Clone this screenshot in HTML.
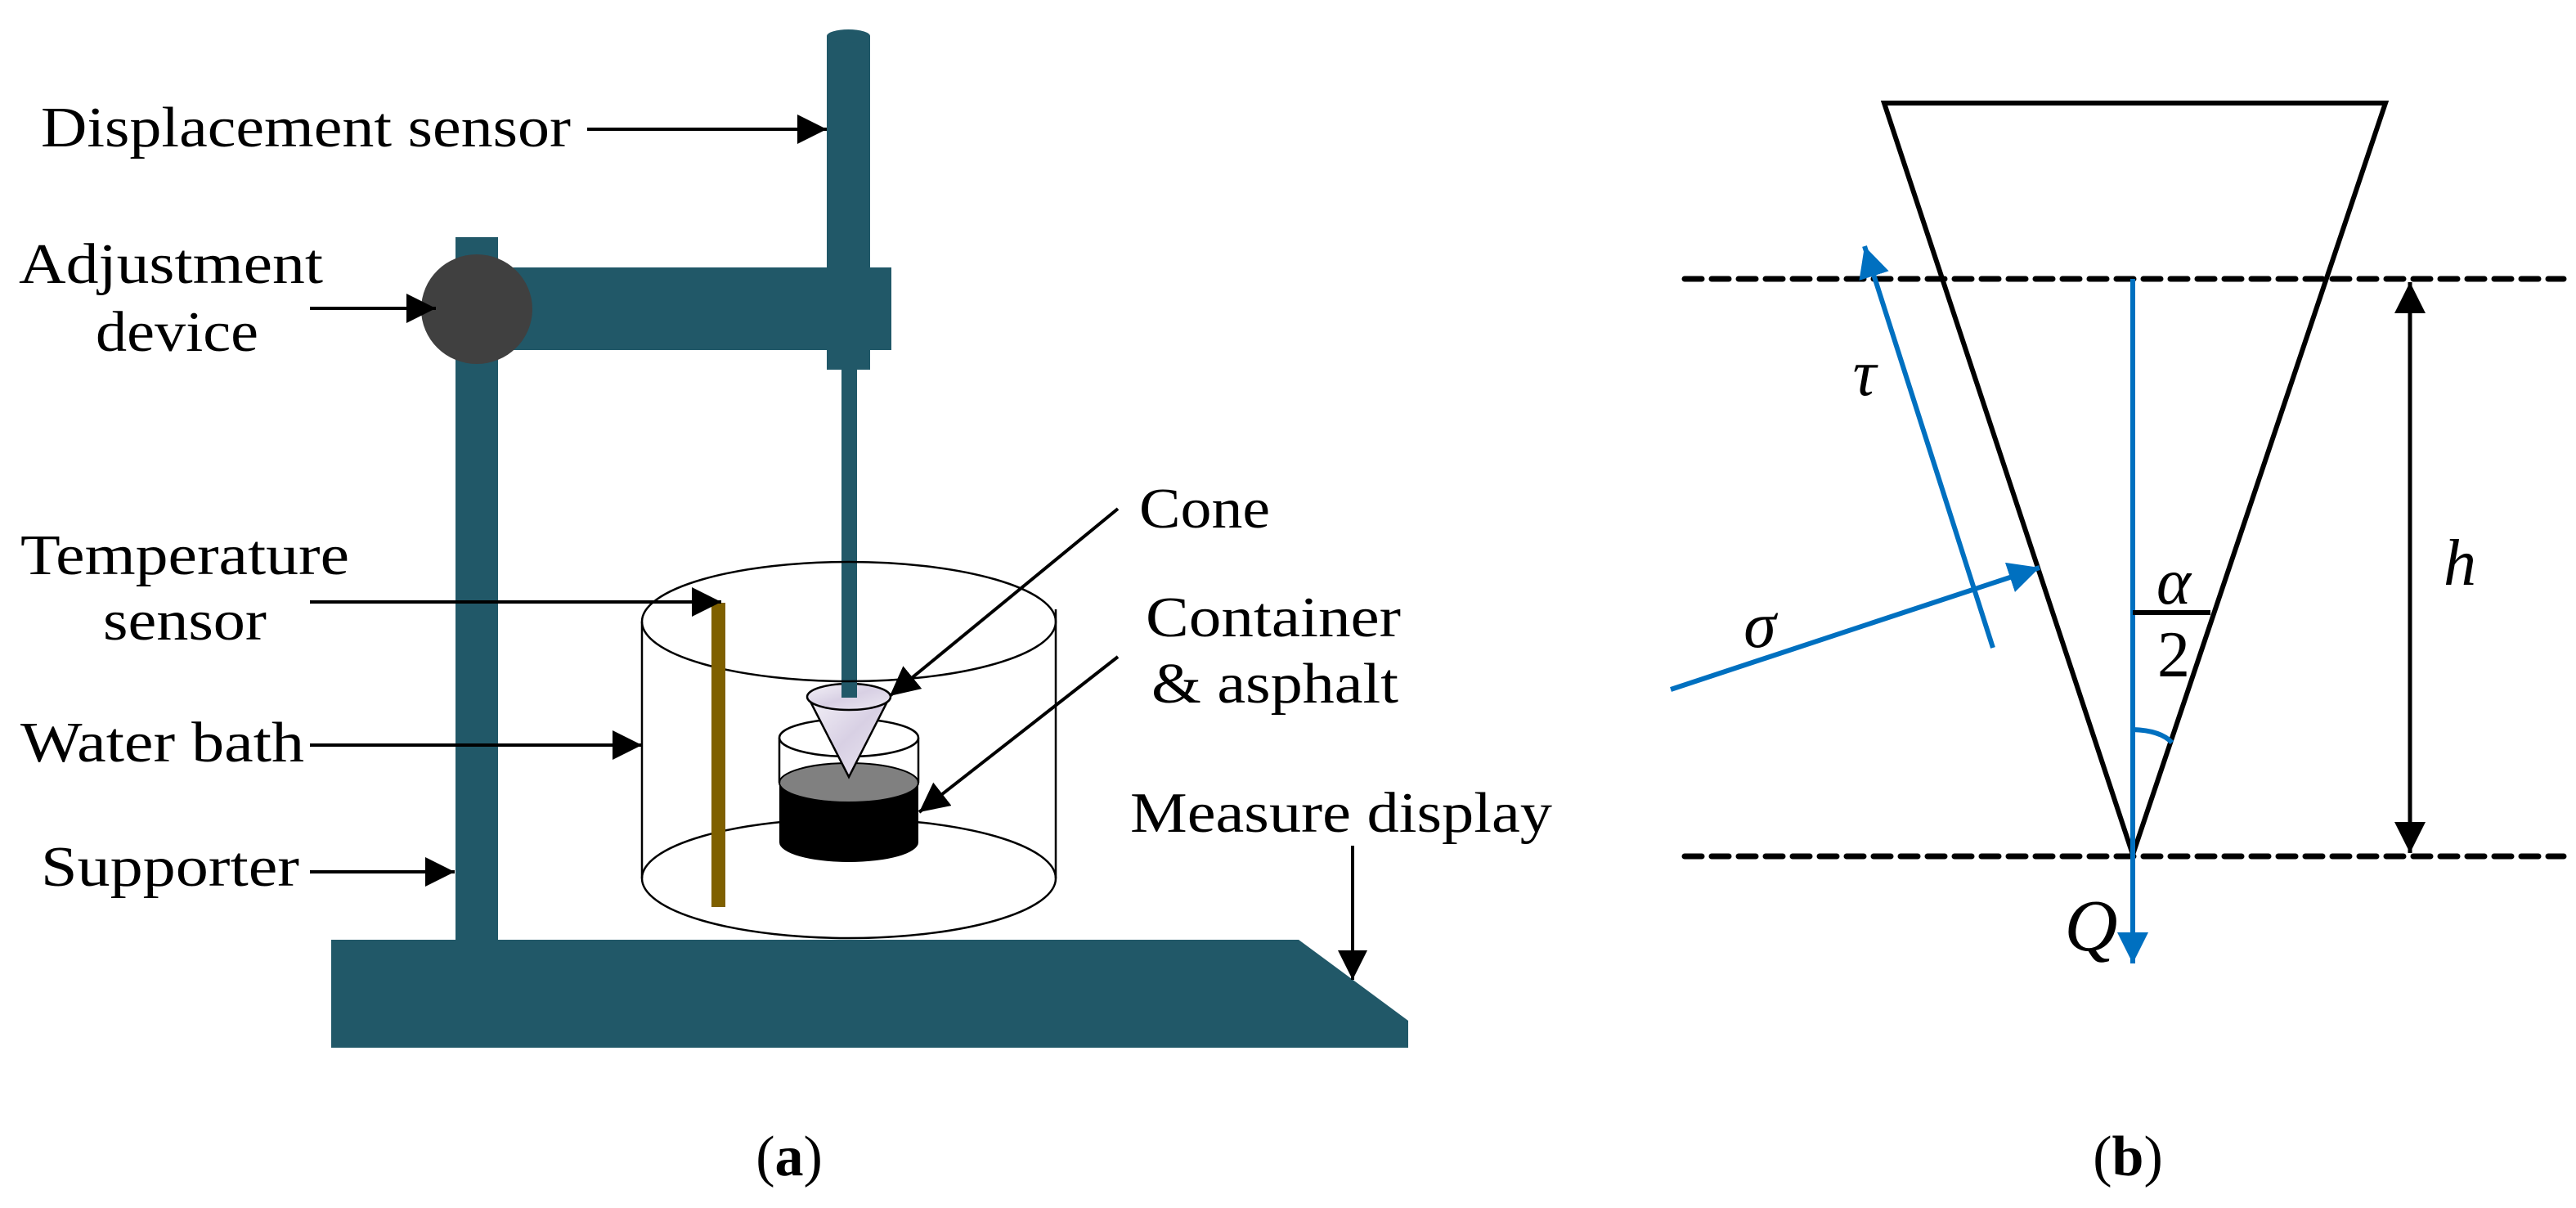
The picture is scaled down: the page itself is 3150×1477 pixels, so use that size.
<!DOCTYPE html>
<html><head><meta charset="utf-8"><style>
html,body{margin:0;padding:0;background:#fff;}
svg{display:block;}
text{font-family:"Liberation Serif",serif;fill:#000;}
</style></head><body>
<svg width="3150" height="1477" viewBox="0 0 3150 1477" xmlns="http://www.w3.org/2000/svg">
<defs>
<linearGradient id="cg" x1="0" y1="0" x2="1" y2="1"><stop offset="0" stop-color="#f4f2f8"/><stop offset="0.5" stop-color="#d8d0e4"/><stop offset="1" stop-color="#ece8f2"/></linearGradient>
<marker id="ah" viewBox="0 0 36 36" refX="36" refY="18" markerWidth="36" markerHeight="36" markerUnits="userSpaceOnUse" orient="auto"><path d="M0,0L36,18L0,36z" fill="#000"/></marker>
<marker id="bh" viewBox="0 0 36 36" refX="36" refY="18" markerWidth="38" markerHeight="38" markerUnits="userSpaceOnUse" orient="auto"><path d="M0,0L36,18L0,36z" fill="#0070c0"/></marker>
<marker id="kh" viewBox="0 0 36 36" refX="36" refY="18" markerWidth="38" markerHeight="38" markerUnits="userSpaceOnUse" orient="auto-start-reverse"><path d="M0,0L36,18L0,36z" fill="#000"/></marker>
</defs>
<!-- Panel A -->
<g fill="#215868">
<rect x="1011" y="44" width="53" height="408"/>
<ellipse cx="1037.5" cy="44" rx="26.5" ry="8"/>
<rect x="603" y="327" width="487" height="101"/>
<rect x="557" y="290" width="52" height="862"/>
<rect x="1029" y="440" width="19" height="413"/>
<polygon points="405,1149 1588,1149 1722,1248 1722,1281 405,1281"/>
</g>
<ellipse cx="583" cy="378" rx="68" ry="67" fill="#404040"/>
<g fill="none" stroke="#000" stroke-width="2.5">
<ellipse cx="1038" cy="1074" rx="253" ry="73"/>
</g>
<path d="M953,957 L953,1030 A85,24 0 0 0 1123,1030 L1123,957 Z" fill="#000"/>
<ellipse cx="1038" cy="957" rx="85" ry="24" fill="#808080" stroke="#000" stroke-width="2"/>
<g fill="none" stroke="#000" stroke-width="2.5">
<ellipse cx="1038" cy="902" rx="85" ry="23"/>
<line x1="953" y1="902" x2="953" y2="957"/><line x1="1123" y1="902" x2="1123" y2="957"/>
</g>
<path d="M988,852 L1038,950 L1088,852 Z" fill="url(#cg)" stroke="#000" stroke-width="2.5"/>
<ellipse cx="1038" cy="852" rx="51" ry="16" fill="url(#cg)" stroke="#000" stroke-width="2.5"/>
<rect x="1029" y="440" width="19" height="413" fill="#215868"/>
<g fill="none" stroke="#000" stroke-width="2.5">
<ellipse cx="1038" cy="760" rx="253" ry="73"/>
<line x1="785" y1="760" x2="785" y2="1074"/><line x1="1291" y1="745" x2="1291" y2="1074"/>
</g>
<rect x="870" y="737" width="17" height="372" fill="#7f6000"/>
<g stroke="#000" stroke-width="4" fill="none">
<line x1="718" y1="158" x2="1011" y2="158" marker-end="url(#ah)"/>
<line x1="379" y1="377" x2="533" y2="377" marker-end="url(#ah)"/>
<line x1="379" y1="736" x2="882" y2="736" marker-end="url(#ah)"/>
<line x1="379" y1="911" x2="785" y2="911" marker-end="url(#ah)"/>
<line x1="379" y1="1066" x2="556" y2="1066" marker-end="url(#ah)"/>
<line x1="1367" y1="622" x2="1088" y2="851" marker-end="url(#ah)"/>
<line x1="1367" y1="803" x2="1124" y2="993" marker-end="url(#ah)"/>
<line x1="1654" y1="1034" x2="1654" y2="1198" marker-end="url(#ah)"/>
</g>
<g font-size="70">
<text x="50" y="179" textLength="648" lengthAdjust="spacingAndGlyphs">Displacement sensor</text>
<text x="23" y="346" textLength="372" lengthAdjust="spacingAndGlyphs">Adjustment</text>
<text x="117" y="429" textLength="199" lengthAdjust="spacingAndGlyphs">device</text>
<text x="25" y="702" textLength="402" lengthAdjust="spacingAndGlyphs">Temperature</text>
<text x="126" y="782" textLength="200" lengthAdjust="spacingAndGlyphs">sensor</text>
<text x="25" y="931" textLength="347" lengthAdjust="spacingAndGlyphs">Water bath</text>
<text x="50" y="1083" textLength="316" lengthAdjust="spacingAndGlyphs">Supporter</text>
<text x="1393" y="645" textLength="160" lengthAdjust="spacingAndGlyphs">Cone</text>
<text x="1401" y="778" textLength="312" lengthAdjust="spacingAndGlyphs">Container</text>
<text x="1408" y="859" textLength="302" lengthAdjust="spacingAndGlyphs">&amp; asphalt</text>
<text x="1382" y="1017" textLength="516" lengthAdjust="spacingAndGlyphs">Measure display</text>
<text x="965" y="1437" text-anchor="middle">(<tspan font-weight="bold">a</tspan>)</text>
<text x="2602" y="1437" text-anchor="middle">(<tspan font-weight="bold">b</tspan>)</text>
</g>
<!-- Panel B -->
<g stroke="#000" stroke-width="7" stroke-dasharray="21 12" stroke-linecap="round" fill="none">
<line x1="2060" y1="341" x2="3135" y2="341"/>
<line x1="2060" y1="1047" x2="3135" y2="1047"/>
</g>
<polygon points="2304,126 2917,126 2608,1045" fill="none" stroke="#000" stroke-width="6"/>
<line x1="2947" y1="345" x2="2947" y2="1043" stroke="#000" stroke-width="5" marker-start="url(#kh)" marker-end="url(#kh)"/>
<g stroke="#0070c0" stroke-width="6" fill="none">
<line x1="2608" y1="341" x2="2608" y2="1178" marker-end="url(#bh)"/>
<line x1="2437" y1="792" x2="2280" y2="301" marker-end="url(#bh)"/>
<line x1="2043" y1="843" x2="2494" y2="694" marker-end="url(#bh)"/>
<path d="M2608,892 Q2642,893 2656,908"/>
</g>
<line x1="2608" y1="749" x2="2703" y2="749" stroke="#000" stroke-width="6"/>
<g font-size="80" font-style="italic">
<text x="2658" y="738" text-anchor="middle">α</text>
<text x="3008" y="715" text-anchor="middle">h</text>
<text x="2280" y="483" text-anchor="middle">τ</text>
<text x="2152" y="791" text-anchor="middle">σ</text>
<text x="2557" y="1162" text-anchor="middle" font-size="90">Q</text>
</g>
<text x="2658" y="827" text-anchor="middle" font-size="80">2</text>
</svg>
</body></html>
